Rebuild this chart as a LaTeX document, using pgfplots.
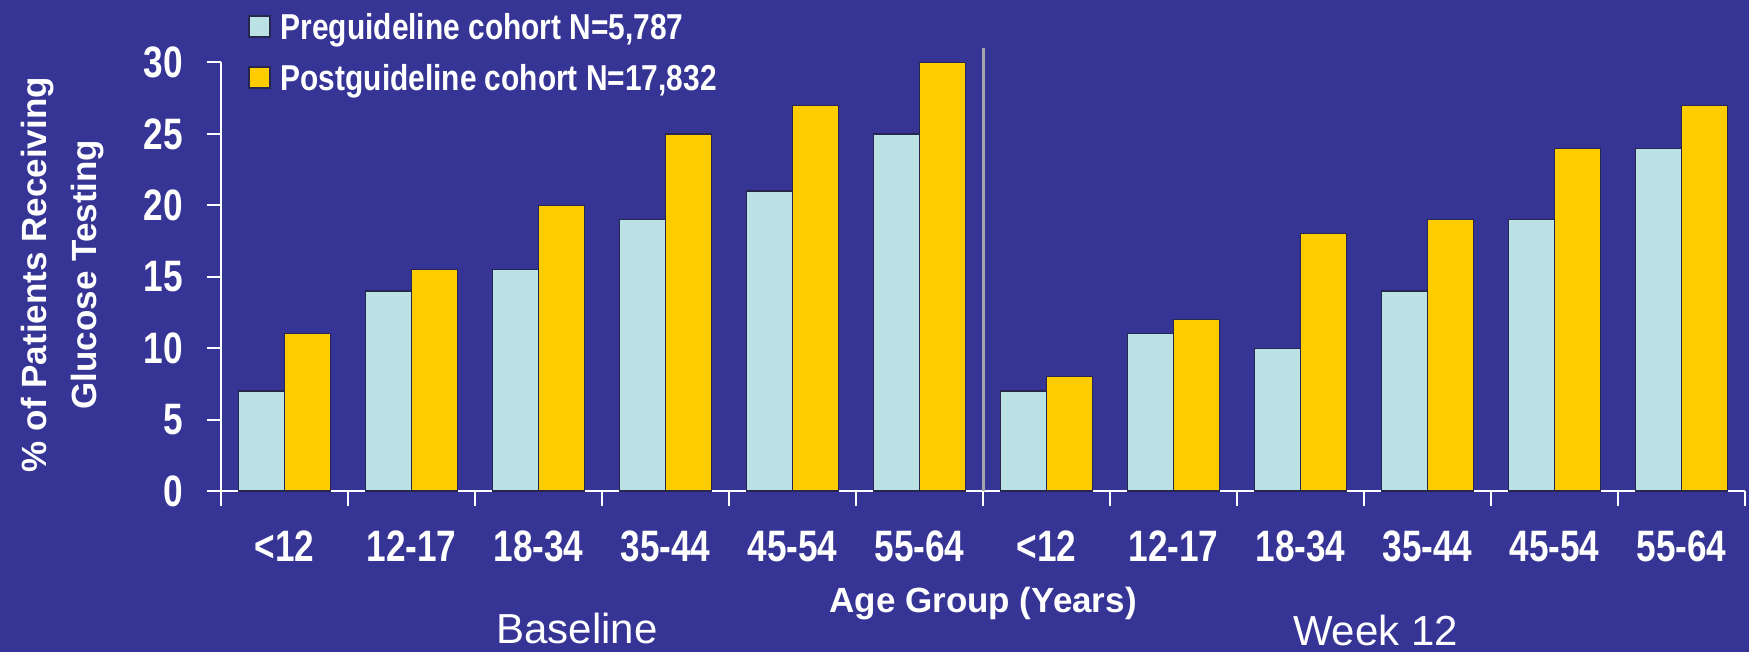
\documentclass[border=0pt]{standalone}
\usepackage{fontspec}
\setmainfont{Liberation Sans}
\newfontfamily\narrowfont{Liberation Sans}[FakeStretch=0.8]
\newfontfamily\legnarrow{Liberation Sans}[FakeStretch=0.83]
\usepackage{pgfplots}
\pgfplotsset{compat=1.18}

\definecolor{bg}{RGB}{54,53,150}
\definecolor{pre}{RGB}{186,225,228}
\definecolor{post}{RGB}{255,204,0}
\definecolor{edge}{RGB}{38,38,78}
\definecolor{sep}{RGB}{166,166,166}

\begin{document}
\begin{tikzpicture}
% background, sized like the reference (1px = 0.5pt)
\fill[bg] (-110.5pt,-80.5pt) rectangle (764pt,245.5pt);
\begin{axis}[
    at={(0pt,0pt)}, anchor=south west,
    scale only axis,
    width=762pt, height=214.25pt,
    clip=false,
    axis lines*=left,
    axis line style={white, line width=1pt},
    ymin=0, ymax=30, ytick={0,5,...,30},
    xmin=-0.5, xmax=11.5,
    xtick={0,...,11},
    xticklabels={<12,12-17,18-34,35-44,45-54,55-64,<12,12-17,18-34,35-44,45-54,55-64},
    minor xtick={-0.5,0.5,...,11.5},
    tick align=outside,
    major tick length=7pt,
    minor tick length=7.5pt,
    tick style={white, line width=1pt},
    major x tick style={draw=none},
    /pgf/number format/assume math mode=true,
    tick label style={font=\narrowfont\bfseries\fontsize{22}{22}\selectfont, text=white},
    yticklabel style={anchor=east, inner sep=0pt, xshift=-12pt},
    xticklabel style={anchor=base, inner sep=0pt, yshift=-28pt},
    xlabel={Age Group (Years)},
    xlabel style={at={(axis description cs:0.5,-0.2847)}, anchor=base,
        font=\bfseries\fontsize{17.5}{21}\selectfont, text=white, inner sep=0pt},
    ylabel={\% of Patients Receiving\\Glucose Testing},
    ylabel style={at={(axis description cs:-0.0765,0.505)}, anchor=south, rotate=0,
        align=center, font=\bfseries\fontsize{17.5}{25}\selectfont, text=white, inner sep=0pt},
    ybar=0pt, bar width=23pt,
    legend cell align=left,
    legend style={at={(axis description cs:0.0177,1.1155)}, anchor=north west,
        draw=none, fill=none, text=white, inner sep=0pt, row sep=12.5pt,
        font=\legnarrow\bfseries\fontsize{18}{18}\selectfont,
        nodes={inner sep=0pt, text height=13pt, text depth=0pt}},
    legend image code/.code={
        \draw[#1, draw=edge, line width=0.8pt] (0pt,-5.25pt) rectangle (10.5pt,5.25pt);
        \path (15.5pt,0pt);},
]
% Preguideline cohort
\addplot[fill=pre, draw=edge, line width=0.6pt] coordinates {
    (0,7) (1,14) (2,15.5) (3,19) (4,21) (5,25)
    (6,7) (7,11) (8,10) (9,14) (10,19) (11,24)
};
\addlegendentry{Preguideline cohort N=5,787}
% Postguideline cohort
\addplot[fill=post, draw=edge, line width=0.6pt] coordinates {
    (0,11) (1,15.5) (2,20) (3,25) (4,27) (5,30)
    (6,8) (7,12) (8,18) (9,19) (10,24) (11,27)
};
\addlegendentry{Postguideline cohort N=17,832}

% divider between the two time points
\draw[sep, line width=1.5pt] (axis cs:5.5,0) -- (axis cs:5.5,31);

\node[anchor=base, text=white, font=\fontsize{21}{21}\selectfont, inner sep=0pt]
    at (axis description cs:0.2336,-0.357) {Baseline};
\node[anchor=base, text=white, font=\fontsize{21}{21}\selectfont, inner sep=0pt]
    at (axis description cs:0.7576,-0.361) {Week 12};
\end{axis}
\pgfresetboundingbox
\path (-110.5pt,-80.5pt) rectangle (764pt,245.5pt);
\end{tikzpicture}
\end{document}
